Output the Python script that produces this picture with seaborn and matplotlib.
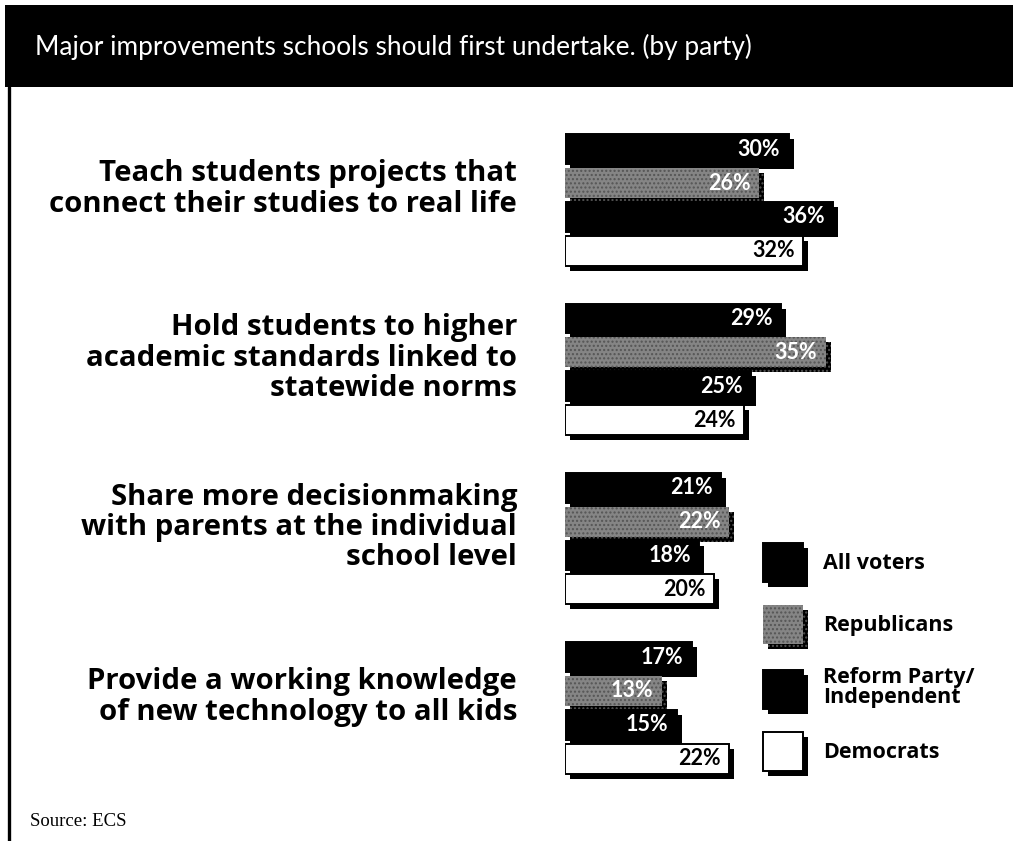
import matplotlib
matplotlib.use("Agg")
import matplotlib.pyplot as plt
import matplotlib.patheffects as pe
from matplotlib.patches import Rectangle, Patch
import pandas as pd
import seaborn as sns

# ---- data -------------------------------------------------------------
categories = [
    "Teach students projects that\nconnect their studies to real life",
    "Hold students to higher\nacademic standards linked to\nstatewide norms",
    "Share more decisionmaking\nwith parents at the individual\nschool level",
    "Provide a working knowledge\nof new technology to all kids",
]
parties = ["All voters", "Republicans", "Reform Party/\nIndependent", "Democrats"]
all_voters = [30, 29, 21, 17]
republicans = [26, 35, 22, 13]
reform_independent = [36, 25, 18, 15]
democrats = [32, 24, 20, 22]
title = "Major improvements schools should first undertake. (by party)"
source = "Source: ECS"

# ---- styling ----------------------------------------------------------
colors = ["#000000", "#858585", "#000000", "#ffffff"]
value_colors = ["white", "white", "white", "black"]
sans = ["Open Sans", "DejaVu Sans"]

sns.set_theme(style="white")
plt.rcParams["font.family"] = ["Lato", "DejaVu Sans"]
plt.rcParams["text.color"] = "black"

W, H, DPI = 1013, 841, 100
fig = plt.figure(figsize=(W / DPI, H / DPI), dpi=DPI)
fig.patch.set_facecolor("white")

# title band and left rule
fig.add_artist(Rectangle((5 / W, 1 - 87 / H), 1, 82 / H, transform=fig.transFigure,
                         facecolor="black", edgecolor="none"))
fig.add_artist(plt.Line2D([9 / W, 9 / W], [0, 1 - 87 / H], transform=fig.transFigure,
                          color="black", lw=2.4))
fig.text(35 / W, 1 - 47 / H, title, color="white", fontsize=18.9,
         va="center", ha="left", family=["Lato", "DejaVu Sans"])
fig.text(30 / W, 1 - 821 / H, source, color="black", fontsize=13.5,
         va="center", ha="left", family=["Liberation Serif", "DejaVu Serif"])

# ---- bars -------------------------------------------------------------
df = pd.DataFrame({
    "category": [c for c in categories for _ in parties],
    "party": parties * len(categories),
    "value": [v for row in zip(all_voters, republicans, reform_independent, democrats)
              for v in row],
})

ax_top, ax_bot, ax_left, ax_right = 100, 830, 565, 1010
ax = fig.add_axes([ax_left / W, 1 - ax_bot / H, (ax_right - ax_left) / W,
                   (ax_bot - ax_top) / H])
sns.barplot(data=df, y="category", x="value", hue="party", hue_order=parties,
            order=categories, palette=colors, orient="h", width=0.8, gap=0.12,
            edgecolor="black", linewidth=1.4, legend=False, ax=ax)

px_per_pct = 7.45
ax.set_xlim(0, (ax_right - ax_left) / px_per_pct)
px_per_group = 169.3
first_center = 200
ax.set_ylim((ax_bot - first_center) / px_per_group, (ax_top - first_center) / px_per_group)
ax.axis("off")

shadow = [pe.SimplePatchShadow(offset=(3.6, -3.6), shadow_rgbFace="black", alpha=1),
          pe.Normal()]
gray = colors[1]
for container, tcol, pcol in zip(ax.containers, value_colors, colors):
    for bar in container:
        bar.set_path_effects(shadow)
        if pcol == gray:
            bar.set_hatch("....")
            bar.set_edgecolor("#555555")
            bar.set_linewidth(0)
    ax.bar_label(container, labels=[f"{v:.0f}%" for v in container.datavalues],
                 padding=-6, color=tcol, fontsize=15.5, fontweight="bold",
                 label_type="edge")
    for t in ax.texts[-len(container):]:
        t.set_ha("right")

# category labels, right-aligned left of the bars
for i, cat in enumerate(categories):
    ax.text(-48 / px_per_pct, i - 11 / px_per_group, cat, ha="right", va="center",
            fontsize=21.2, fontweight="bold", linespacing=1.06, clip_on=False,
            family=sans)

# ---- legend -----------------------------------------------------------
leg_size = 15.5
fpx = leg_size * DPI / 72
handles = [Patch(facecolor=c, edgecolor="black", linewidth=1.4,
                 path_effects=shadow) for c in colors]
for h, c in zip(handles, colors):
    if c == gray:
        h.set_hatch("....")
        h.set_edgecolor("#555555")
        h.set_linewidth(0)
leg = fig.legend(handles, parties, loc="upper left",
                 bbox_to_anchor=(763 / W, 1 - 543 / H), bbox_transform=fig.transFigure,
                 frameon=False, prop={"weight": "bold", "size": leg_size, "family": sans},
                 handlelength=40 / fpx, handleheight=52 / fpx, handletextpad=20 / fpx,
                 labelspacing=23 / fpx, borderpad=0, borderaxespad=0)
for t in leg.get_texts():
    t.set_linespacing(0.95)

fig.savefig("out.png", dpi=DPI, facecolor="white")
